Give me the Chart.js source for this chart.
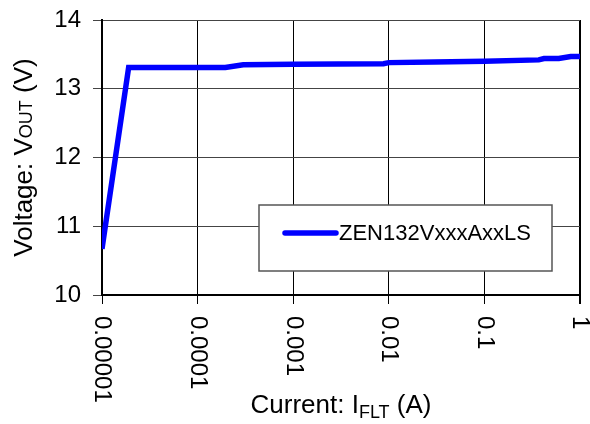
<!DOCTYPE html>
<html>
<head>
<meta charset="utf-8">
<script src="https://cdn.jsdelivr.net/npm/chart.js@4.4.1/dist/chart.umd.min.js"></script>
<style>
  html, body { margin: 0; padding: 0; background: #fff; }
  #wrap { width: 590px; height: 424px; position: relative; }
</style>
</head>
<body>
<div id="wrap"><canvas id="myChart"></canvas></div>
<script>
const seriesLabel = "ZEN132VxxxAxxLS";
// current (A) and output voltage (V)
const currents = [0.00001, 0.000019, 0.00005, 0.0001, 0.000195, 0.0003, 0.001, 0.003, 0.0088, 0.01, 0.03, 0.1, 0.37, 0.42, 0.6, 0.8, 1];
const voltages = [10.67, 13.31, 13.31, 13.31, 13.31, 13.35, 13.355, 13.36, 13.365, 13.38, 13.39, 13.40, 13.42, 13.44, 13.44, 13.47, 13.47];
const xTicks = [0.00001, 0.0001, 0.001, 0.01, 0.1, 1];
const xTickLabels = ["0.00001", "0.0001", "0.001", "0.01", "0.1", "1"];
const yTicks = [10, 11, 12, 13, 14];

const FONT = "'Liberation Sans', Arial, sans-serif";

// axis titles with subscripts, rotated x tick labels, boxed legend
const extras = {
  id: "extras",
  afterDraw(chart) {
    const ctx = chart.ctx;
    const xs = chart.scales.x;
    const area = chart.chartArea;
    ctx.save();
    ctx.fillStyle = "#000";

    // x tick labels, read top to bottom
    ctx.font = "24px " + FONT;
    ctx.textAlign = "left";
    ctx.textBaseline = "middle";
    xTicks.forEach((v, i) => {
      ctx.save();
      ctx.translate(xs.getPixelForValue(v), area.bottom + 21);
      ctx.rotate(Math.PI / 2);
      ctx.fillText(xTickLabels[i], 0, 0);
      ctx.restore();
    });

    // title pieces: [text, small?]
    function drawTitle(parts, x, y, rot, subDrop) {
      ctx.save();
      ctx.translate(x, y);
      ctx.rotate(rot);
      ctx.textBaseline = "alphabetic";
      ctx.textAlign = "left";
      let total = 0;
      parts.forEach(p => {
        ctx.font = (p[1] ? "18px " : "26px ") + FONT;
        total += ctx.measureText(p[0]).width;
      });
      let pos = -total / 2;
      parts.forEach(p => {
        ctx.font = (p[1] ? "18px " : "26px ") + FONT;
        ctx.fillText(p[0], pos, p[1] ? subDrop : 0);
        pos += ctx.measureText(p[0]).width;
      });
      ctx.restore();
    }
    drawTitle([["Current: I", false], ["FLT", true], [" (A)", false]],
      (area.left + area.right) / 2, 413, 0, 5);
    drawTitle([["Voltage: V", false], ["OUT", true], [" (V)", false]],
      32, (area.top + area.bottom) / 2, -Math.PI / 2, 0);

    // legend box
    const ds = chart.data.datasets[0];
    const bx = area.left + 157, by = area.top + 185, bw = 293, bh = 66;
    ctx.fillStyle = "#fff";
    ctx.fillRect(bx, by, bw, bh);
    ctx.strokeStyle = "#555";
    ctx.lineWidth = 1.5;
    ctx.strokeRect(bx, by, bw, bh);
    ctx.strokeStyle = ds.borderColor;
    ctx.lineWidth = ds.borderWidth;
    ctx.lineCap = "round";
    ctx.beginPath();
    ctx.moveTo(bx + 26, by + 28);
    ctx.lineTo(bx + 77, by + 28);
    ctx.stroke();
    ctx.fillStyle = "#000";
    ctx.font = "22px " + FONT;
    ctx.textBaseline = "middle";
    ctx.fillText(ds.label, bx + 80, by + 29);
    ctx.restore();
  }
};

const ctx = document.getElementById("myChart").getContext("2d");

new Chart(ctx, {
  type: "line",
  data: {
    datasets: [{
      label: seriesLabel,
      data: currents.map((c, i) => ({ x: c, y: voltages[i] })),
      borderColor: "#0000ff",
      borderWidth: 5.5,
      pointRadius: 0,
      tension: 0,
      fill: false,
    }],
  },
  options: {
    responsive: true,
    maintainAspectRatio: false,
    animation: false,
    layout: { padding: { top: 20, right: 10, left: 0, bottom: 0 } },
    plugins: {
      legend: { display: false },
      tooltip: { enabled: false },
    },
    scales: {
      x: {
        type: "logarithmic",
        min: 0.00001,
        max: 1,
        afterBuildTicks: (scale) => { scale.ticks = xTicks.map(v => ({ value: v })); },
        afterFit: (scale) => {
          scale.height = 129;
          scale.paddingLeft = 0;
          scale.paddingRight = 0;
        },
        ticks: { display: false },
        grid: {
          color: "#000",
          lineWidth: (c) => (c.index === xTicks.length - 1 ? 2 : 1),
          tickLength: 9,
        },
        border: { color: "#000", width: 2 },
      },
      y: {
        min: 10,
        max: 14,
        afterBuildTicks: (scale) => { scale.ticks = yTicks.map(v => ({ value: v })); },
        afterFit: (scale) => {
          scale.width = 102;
          scale.paddingTop = 0;
          scale.paddingBottom = 0;
        },
        ticks: {
          color: "#000",
          font: { family: FONT, size: 24 },
          padding: 12,
        },
        grid: {
          color: "#444",
          lineWidth: 1,
          tickLength: 9,
        },
        border: { color: "#000", width: 2 },
      },
    },
  },
  plugins: [extras],
});
</script>
</body>
</html>
